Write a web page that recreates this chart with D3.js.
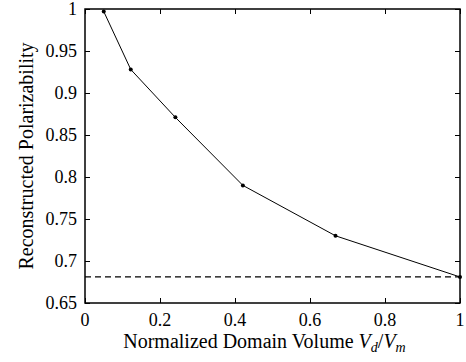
<!DOCTYPE html>
<html>
<head>
<meta charset="utf-8">
<script src="https://cdn.jsdelivr.net/npm/d3@7"></script>
</head>
<body style="margin:0; background:#fff">
<svg></svg>
<script>
var volume = [0.05, 0.122, 0.241, 0.421, 0.668, 1.0];
var polar = [0.997, 0.928, 0.871, 0.790, 0.730, 0.681];
var limitValue = 0.681;
var xTicks = [0, 0.2, 0.4, 0.6, 0.8, 1];
var yTicks = [0.65, 0.7, 0.75, 0.8, 0.85, 0.9, 0.95, 1];
var xTickLabels = ["0", "0.2", "0.4", "0.6", "0.8", "1"];
var yTickLabels = ["0.65", "0.7", "0.75", "0.8", "0.85", "0.9", "0.95", "1"];

var FONT = "'Liberation Serif'";

var margin = {top: 9, right: 6, bottom: 59, left: 85},
    width = 466 - margin.left - margin.right,
    height = 362 - margin.top - margin.bottom;

var svg = d3.select("svg")
    .attr("width", width + margin.left + margin.right)
    .attr("height", height + margin.top + margin.bottom)
    .append("g")
        .attr("transform", "translate(" + margin.left + "," + margin.top + ")");

var x = d3.scaleLinear().domain([0, 1]).range([0, width]);
var y = d3.scaleLinear().domain([0.65, 1]).range([height, 0]);

var noDomain = function(g) { g.select(".domain").remove(); };

// inward tick marks on all four sides
svg.append("g")
    .attr("transform", "translate(0," + height + ")")
    .call(d3.axisBottom(x).tickValues(xTicks).tickSize(-5).tickFormat(""))
    .call(noDomain);
svg.append("g")
    .call(d3.axisTop(x).tickValues(xTicks).tickSize(-5).tickFormat(""))
    .call(noDomain);
svg.append("g")
    .call(d3.axisLeft(y).tickValues(yTicks).tickSize(-5).tickFormat(""))
    .call(noDomain);
svg.append("g")
    .attr("transform", "translate(" + width + ",0)")
    .call(d3.axisRight(y).tickValues(yTicks).tickSize(-5).tickFormat(""))
    .call(noDomain);
svg.selectAll(".tick line").attr("stroke", "#000").attr("stroke-width", 1);

// tick labels
svg.selectAll("text.xlab")
    .data(xTicks)
    .enter()
    .append("text")
        .attr("class", "xlab")
        .attr("x", function(d) { return x(d) })
        .attr("y", height + 23)
        .attr("text-anchor", "middle")
        .attr("font-size", 18)
        .style("font-family", FONT)
        .text(function(d, i) { return xTickLabels[i] });

svg.selectAll("text.ylab")
    .data(yTicks)
    .enter()
    .append("text")
        .attr("class", "ylab")
        .attr("x", -8)
        .attr("y", function(d) { return y(d) + 6 })
        .attr("text-anchor", "end")
        .attr("font-size", 18)
        .style("font-family", FONT)
        .text(function(d, i) { return yTickLabels[i] });

svg.append("rect")
    .attr("width", width).attr("height", height)
    .attr("fill", "none").attr("stroke", "#000").attr("stroke-width", 1.5);

// limit line
svg.append("line")
    .attr("x1", x(0)).attr("x2", x(1))
    .attr("y1", y(limitValue)).attr("y2", y(limitValue))
    .attr("stroke", "#000").attr("stroke-width", 1.2)
    .attr("stroke-dasharray", "6,4");

var pts = volume.map(function(v, i) { return {v: v, p: polar[i]}; });

svg.append("path")
    .datum(pts)
    .attr("fill", "none")
    .attr("stroke", "#000")
    .attr("stroke-width", 1)
    .attr("d", d3.line()
        .x(function(d) { return x(d.v) })
        .y(function(d) { return y(d.p) }));

svg.selectAll("circle.pt")
    .data(pts)
    .enter()
    .append("circle")
        .attr("class", "pt")
        .attr("cx", function(d) { return x(d.v) })
        .attr("cy", function(d) { return y(d.p) })
        .attr("r", 2)
        .attr("fill", "#000");

// axis titles
var xl = svg.append("text")
    .attr("x", width / 2 - 8)
    .attr("y", height + 45)
    .attr("text-anchor", "middle")
    .attr("font-size", 20)
    .style("font-family", FONT);
xl.append("tspan").text("Normalized Domain Volume ");
xl.append("tspan").attr("font-style", "italic").text("V");
xl.append("tspan").attr("font-style", "italic").attr("font-size", 14).attr("dy", 4).text("d");
xl.append("tspan").attr("dy", -4).text("/");
xl.append("tspan").attr("font-style", "italic").text("V");
xl.append("tspan").attr("font-style", "italic").attr("font-size", 14).attr("dy", 4).text("m");

svg.append("text")
    .attr("transform", "translate(" + (-52) + "," + (height / 2) + ") rotate(-90)")
    .attr("text-anchor", "middle")
    .attr("font-size", 20)
    .style("font-family", FONT)
    .text("Reconstructed Polarizability");
</script>
</body>
</html>
